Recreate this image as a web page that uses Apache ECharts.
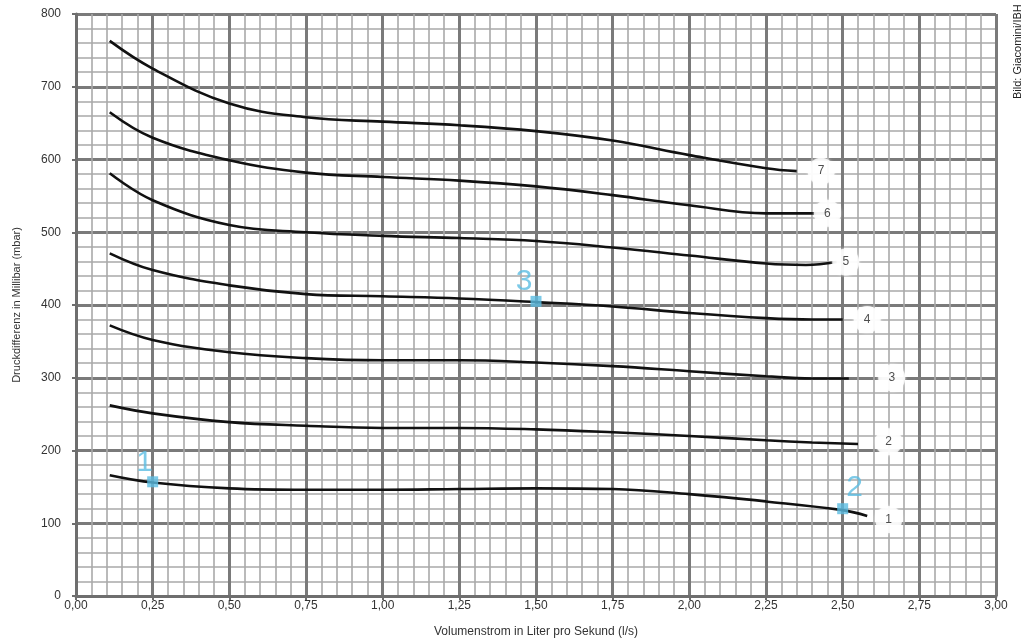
<!DOCTYPE html>
<html>
<head>
<meta charset="utf-8">
<script src="https://cdn.jsdelivr.net/npm/echarts@6/dist/echarts.min.js"></script>
<style>html,body{margin:0;padding:0;background:#fff}#c{width:1025px;height:639px}</style>
</head>
<body>
<div id="c"></div>
<script>
// x values (l/s) sampled along each curve
const xs = [0.11, 0.25, 0.5, 0.75, 1.0, 1.25, 1.5, 1.75, 2.0, 2.25];
// pump curves 1..7 (mbar); each has its own end point(s)
const curve1 = [166, 156, 148, 146, 146, 147, 148, 147, 140, 130];
const curve1End = [[2.5, 118], [2.58, 110]];
const curve2 = [262, 251, 239, 234, 231, 231, 229, 225, 220, 214];
const curve2End = [[2.4, 211], [2.55, 209]];
const curve3 = [372, 352, 335, 327, 324, 324, 321, 316, 309, 302];
const curve3End = [[2.4, 299], [2.52, 299]];
const curve4 = [471, 448, 427, 415, 412, 409, 404, 398, 389, 382];
const curve4End = [[2.4, 380], [2.5, 380]];
const curve5 = [581, 544, 510, 500, 495, 492, 488, 479, 468, 457];
const curve5End = [[2.38, 455], [2.48, 459]];
const curve6 = [665, 630, 599, 582, 576, 571, 563, 551, 537, 526];
const curve6End = [[2.45, 526]];
const curve7 = [763, 725, 677, 658, 652, 647, 639, 626, 606, 588];
const curve7End = [[2.35, 584]];
// curve number labels
const curveLabels = [
  ['1', 2.65, 105], ['2', 2.65, 212], ['3', 2.66, 300], ['4', 2.58, 380],
  ['5', 2.51, 459], ['6', 2.45, 526], ['7', 2.43, 584]
];
// highlighted operating points
const opPoints = [['1', 0.25, 157], ['2', 2.5, 120], ['3', 1.5, 405]];
const xTicks = ['0,00','0,25','0,50','0,75','1,00','1,25','1,50','1,75','2,00','2,25','2,50','2,75','3,00'];

const curves = [
  [curve1, curve1End], [curve2, curve2End], [curve3, curve3End], [curve4, curve4End],
  [curve5, curve5End], [curve6, curve6End], [curve7, curve7End]
];
const lineSeries = curves.map(function (c) {
  const d = xs.map(function (x, i) { return [x, c[0][i]]; }).concat(c[1]);
  return {
    type: 'line', data: d, smooth: 0.4, showSymbol: false, silent: true,
    lineStyle: { color: '#111', width: 2.6 }, z: 3
  };
});

const labelOffsets = { '1': [-8, -19], '2': [12, -21], '3': [-12, -20] };

const chart = echarts.init(document.getElementById('c'));
chart.setOption({
  animation: false,
  backgroundColor: '#fff',
  textStyle: { fontFamily: 'Liberation Sans, Arial, sans-serif' },
  grid: { left: 76, right: 29, top: 14, bottom: 43, containLabel: false, outerBoundsMode: 'none' },
  xAxis: {
    type: 'value', min: 0, max: 3, interval: 0.25,
    name: 'Volumenstrom in Liter pro Sekund (l/s)', nameLocation: 'middle', nameGap: 30,
    nameTextStyle: { fontSize: 12, color: '#333' },
    axisLine: { show: true, onZero: false, lineStyle: { color: '#6e6e6e', width: 3 } },
    axisTick: { show: true, length: 4, lineStyle: { color: '#6e6e6e', width: 2 } },
    axisLabel: { fontSize: 12, color: '#333', margin: 4,
      formatter: function (v) { return xTicks[Math.round(v / 0.25)]; } },
    splitLine: { show: true, lineStyle: { color: '#7a7a7a', width: 3 } },
    minorTick: { show: false, splitNumber: 5 },
    minorSplitLine: { show: true, lineStyle: { color: '#a9a9a9', width: 1.6 } }
  },
  yAxis: {
    type: 'value', min: 0, max: 800, interval: 100,
    name: 'Druckdifferenz in Millibar (mbar)', nameLocation: 'middle', nameGap: 54,
    nameTextStyle: { fontSize: 11, color: '#333' },
    axisLine: { show: true, lineStyle: { color: '#6e6e6e', width: 3 } },
    axisTick: { show: true, length: 4, lineStyle: { color: '#6e6e6e', width: 2 } },
    axisLabel: { fontSize: 12, color: '#333', margin: 15 },
    splitLine: { show: true, lineStyle: { color: '#7a7a7a', width: 3 } },
    minorTick: { show: false, splitNumber: 5 },
    minorSplitLine: { show: true, lineStyle: { color: '#a9a9a9', width: 1.6 } }
  },
  series: lineSeries.concat([
    {
      type: 'scatter', silent: true, z: 5,
      symbol: 'circle', symbolSize: 27,
      itemStyle: { color: '#fff', shadowBlur: 3, shadowColor: 'rgba(255,255,255,0.9)' },
      label: { show: true, position: 'inside', color: '#222', fontSize: 12,
        formatter: function (p) { return p.data[2]; } },
      data: curveLabels.map(function (l) { return [l[1], l[2], l[0]]; })
    },
    {
      type: 'scatter', silent: true, z: 6,
      symbol: 'rect', symbolSize: 11,
      itemStyle: { color: '#5bbde2' },
      label: { show: true, position: 'inside', color: '#5bbde2', fontSize: 30,
        formatter: function (p) { return p.data.name; } },
      data: opPoints.map(function (p) {
        return { name: p[0], value: [p[1], p[2]], label: { offset: labelOffsets[p[0]] } };
      })
    }
  ]),
  graphic: [{
    type: 'text', x: 1012, y: 99, rotation: Math.PI / 2,
    style: { text: 'Bild: Giacomini/IBH', fill: '#222', fontSize: 11,
      fontFamily: 'Liberation Sans, Arial, sans-serif', textAlign: 'left', textVerticalAlign: 'top' }
  }]
});
</script>
</body>
</html>
